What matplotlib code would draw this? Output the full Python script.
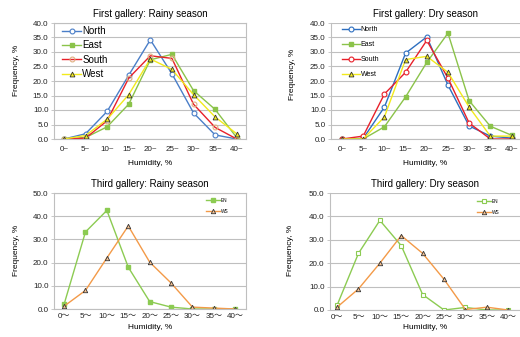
import matplotlib
matplotlib.use('Agg')
import matplotlib.pyplot as plt
import numpy as np

plt.rcParams['font.family'] = ['Liberation Sans', 'Noto Sans CJK JP', 'DejaVu Sans']

#%% Data
bins = ['0', '5', '10', '15', '20', '25', '30', '35', '40']

# first gallery, rainy season
fr_north = [0.0, 1.8, 9.5, 22.0, 34.2, 22.5, 9.0, 1.4, 0.0]
fr_east = [0.0, 0.5, 4.2, 12.0, 27.3, 29.2, 16.7, 10.2, 0.5]
fr_south = [0.0, 0.3, 6.3, 21.0, 28.7, 27.8, 12.0, 4.0, 0.0]
fr_west = [0.0, 1.2, 6.8, 15.3, 27.6, 24.0, 15.3, 7.6, 1.8]

# first gallery, dry season
fd_north = [0.0, 0.2, 11.0, 29.6, 35.2, 18.6, 4.5, 1.0, 0.3]
fd_east = [0.0, 0.0, 4.2, 14.5, 26.4, 36.5, 13.2, 4.4, 1.3]
fd_south = [0.0, 1.0, 15.5, 23.0, 34.0, 21.0, 5.5, 0.0, 0.0]
fd_west = [0.0, 0.0, 7.6, 27.4, 28.5, 23.0, 11.0, 1.0, 1.0]

# third gallery
tr_en = [2.0, 33.2, 42.5, 18.0, 3.2, 0.8, 0.0, 0.0, 0.0]
tr_ws = [1.2, 8.0, 22.0, 35.8, 20.2, 11.2, 0.8, 0.4, 0.0]
td_en = [2.0, 24.2, 38.3, 27.5, 6.6, 0.0, 1.1, 0.0, 0.0]
td_ws = [1.2, 9.0, 20.0, 31.8, 24.2, 13.1, 0.2, 1.2, 0.0]

x = np.arange(len(bins))
W, H = 520, 337
fig = plt.figure(figsize=(W/100, H/100), dpi=100)
grid_c = '#BFBFBF'
blue, green, red, yellow = '#4A7EC8', '#8BC34A', '#E8202A', '#F2EA1C'
en_c, ws_c = '#8CCB52', '#F39A48'


def axes_px(l, t, r, b):
    return fig.add_axes([l/W, (H-b)/H, (r-l)/W, (b-t)/H])


def style(ax, ymax, ystep, xlim, labels, frame, xpad):
    ax.set_ylim(0, ymax)
    ax.set_xlim(*xlim)
    ax.set_yticks(np.arange(0, ymax+0.1, ystep))
    ax.set_yticklabels(['%.1f' % v for v in np.arange(0, ymax+0.1, ystep)], fontsize=5.8, color='#222222')
    ax.set_xticks(x)
    ax.set_xticklabels(labels, fontsize=5.8, color='#222222')
    ax.yaxis.grid(True, color=grid_c, lw=0.8)
    ax.set_axisbelow(True)
    ax.tick_params(axis='y', length=2.5, width=0.6, color=grid_c, pad=1.5)
    ax.tick_params(axis='x', length=0, pad=xpad)
    for s in ax.spines.values():
        s.set_color(grid_c)
        s.set_linewidth(0.8)
    if not frame:
        ax.spines['top'].set_visible(False)
        ax.spines['right'].set_visible(False)


top_labels = [b + '~' for b in bins]
bot_labels = [b + '～' for b in bins]

#%% First gallery: rainy
ax = axes_px(54, 23, 246, 139)
ax.plot(x, fr_north, color=blue, lw=1.0, marker='o', ms=3.5, mfc='white', mec=blue, mew=0.8, label='North')
ax.plot(x, fr_east, color=green, lw=1.0, marker='s', ms=3.5, mfc=green, mec=green, label='East')
ax.plot(x, fr_south, color=red, lw=1.0, marker='o', ms=3.5, mfc='none', mec='#E0B080', mew=0.8, label='South')
ax.plot(x, fr_west, color=yellow, lw=1.0, marker='^', ms=3.5, mfc=yellow, mec='#333333', mew=0.6, label='West')
style(ax, 40, 5, (-0.46, 8.43), top_labels, True, 5)
ax.legend(loc='upper left', bbox_to_anchor=(62/W, (H-26)/H), bbox_transform=fig.transFigure,
          frameon=False, fontsize=7, handlelength=2.0, handletextpad=0.1, labelspacing=0.45,
          borderaxespad=0, borderpad=0)
ax.set_title('First gallery: Rainy season', fontsize=7, pad=4.5)
ax.set_xlabel('Humidity, %', fontsize=6, labelpad=5)
fig.text(17/W, (H-70)/H, 'Frequency, %', rotation=90, fontsize=6, ha='center', va='center')

#%% First gallery: dry
ax = axes_px(331, 23, 520, 139)
ax.plot(x, fd_north, color='#2E6FC0', lw=1.0, marker='o', ms=3.5, mfc='white', mec='#2E6FC0', mew=0.8, label='North')
ax.plot(x, fd_east, color=green, lw=1.0, marker='s', ms=3.5, mfc=green, mec=green, label='East')
ax.plot(x, fd_south, color=red, lw=1.0, marker='o', ms=3.5, mfc='white', mec=red, mew=0.8, label='South')
ax.plot(x, fd_west, color=yellow, lw=1.0, marker='^', ms=3.5, mfc=yellow, mec='#333333', mew=0.6, label='West')
style(ax, 40, 5, (-0.52, 8.4), top_labels, False, 5)
ax.legend(loc='upper left', bbox_to_anchor=(342/W, (H-26)/H), bbox_transform=fig.transFigure,
          frameon=False, fontsize=5, handlelength=2.6, handletextpad=0.1, labelspacing=1.15,
          borderaxespad=0, borderpad=0)
ax.set_title('First gallery: Dry season', fontsize=7, pad=4.5)
ax.set_xlabel('Humidity, %', fontsize=6, labelpad=5)
fig.text(292/W, (H-74)/H, 'Frequency, %', rotation=90, fontsize=6, ha='center', va='center')

#%% Third gallery: rainy
ax = axes_px(54, 193, 246, 309)
ax.plot(x, tr_en, color=en_c, lw=1.0, marker='s', ms=3.2, mfc=en_c, mec=en_c, label='EN')
ax.plot(x, tr_ws, color=ws_c, lw=1.0, marker='^', ms=3.2, mfc='#F6C090', mec='#333333', mew=0.6, label='WS')
style(ax, 50, 10, (-0.47, 8.5), bot_labels, True, 3)
ax.legend(loc='upper left', bbox_to_anchor=(206/W, (H-198)/H), bbox_transform=fig.transFigure,
          frameon=False, fontsize=3.4, handlelength=3.0, handletextpad=0.1, labelspacing=1.2,
          borderaxespad=0, borderpad=0)
ax.set_title('Third gallery: Rainy season', fontsize=7, pad=4.5)
ax.set_xlabel('Humidity, %', fontsize=6, labelpad=2.5)
fig.text(17/W, (H-250)/H, 'Frequency, %', rotation=90, fontsize=6, ha='center', va='center')

#%% Third gallery: dry
ax = axes_px(330, 193, 520, 310)
ax.plot(x, td_en, color=en_c, lw=1.0, marker='s', ms=3.2, mfc='white', mec=en_c, mew=0.8, label='EN')
ax.plot(x, td_ws, color=ws_c, lw=1.0, marker='^', ms=3.2, mfc='#F6C090', mec='#333333', mew=0.6, label='WS')
style(ax, 50, 10, (-0.33, 8.55), bot_labels, False, 3)
ax.legend(loc='upper left', bbox_to_anchor=(477/W, (H-199)/H), bbox_transform=fig.transFigure,
          frameon=False, fontsize=3.4, handlelength=3.0, handletextpad=0.1, labelspacing=1.2,
          borderaxespad=0, borderpad=0)
ax.set_title('Third gallery: Dry season', fontsize=7, pad=4.5)
ax.set_xlabel('Humidity, %', fontsize=6, labelpad=2)
fig.text(291/W, (H-250)/H, 'Frequency, %', rotation=90, fontsize=6, ha='center', va='center')

plt.savefig('out.png', dpi=100)
